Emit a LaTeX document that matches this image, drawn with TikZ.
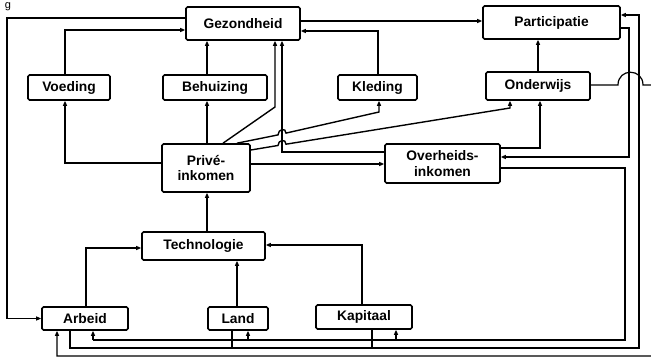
\documentclass[tikz,border=0pt]{standalone}
\usepackage{fontspec}
\setmainfont{Liberation Sans}
\usetikzlibrary{arrows.meta}
\begin{document}
\begin{tikzpicture}[x=1pt,y=-1pt,
  box/.style={draw,line width=1.6pt,rounded corners=1.5pt,inner sep=0pt,align=center,
    font=\bfseries\fontsize{13.8}{15.5}\selectfont},
  con/.style={line width=1.2pt},
  arr/.style={con,-{Triangle[length=5pt,width=4pt]}},
  slant/.style={line width=1.4pt}]
\useasboundingbox (0,0) rectangle (651,358);
\clip (0,0) rectangle (651,358);
\node[font=\fontsize{11}{12}\selectfont,anchor=base,inner sep=0pt] (frag) at (8,9) {g};
% boxes
\node[box,minimum width=114pt,minimum height=33pt] (gez) at (243,23.5) {Gezondheid};
\node[box,minimum width=137pt,minimum height=33pt] (part) at (551.5,22.5) {Participatie};
\node[box,minimum width=82pt,minimum height=25pt] (voed) at (69,87.5) {Voeding};
\node[box,minimum width=104pt,minimum height=25pt] (beh) at (215,87.5) {Behuizing};
\node[box,minimum width=79pt,minimum height=25pt] (kled) at (377.5,87.5) {Kleding};
\node[box,minimum width=104pt,minimum height=28pt] (ond) at (538,86) {Onderwijs};
\node[box,minimum width=88pt,minimum height=48pt] (prive) at (206,168) {Privé-\\inkomen};
\node[box,minimum width=115pt,minimum height=39pt] (over) at (442.5,163.5) {Overheids-\\inkomen};
\node[box,minimum width=123pt,minimum height=28pt] (tech) at (203.5,246) {Technologie};
\node[box,minimum width=86pt,minimum height=23pt] (arb) at (85,318.5) {Arbeid};
\node[box,minimum width=60pt,minimum height=23pt] (land) at (238,318.5) {Land};
\node[box,minimum width=96pt,minimum height=24pt] (kap) at (364,317) {Kapitaal};
% upper part
\draw[arr] (gez.west|-0,18) -- (7,18) |- (arb.west);
\draw[arr] (65,0|-voed.north) |- (gez.west|-0,30);
\draw[arr] (207,0|-beh.north) -- (207,0|-gez.south);
\draw[arr] (207,0|-prive.north) -- (207,0|-beh.south);
\draw[arr] (prive.west|-0,163) -| (65,0|-voed.south);
\draw[arr,slant] (223,0|-prive.north) -- (275,107) -- (275,0|-gez.south);
\draw[arr] (over.west|-0,152) -- (282,152) -- (282,0|-gez.south);
\draw[arr] (prive.east|-0,164) -- (over.west|-0,164);
\draw[arr,slant] (237,0|-prive.north) -- (278,134.9) .. controls (278,129) and (286,127.2) .. (286,133.1) -- (379,112) -- (379,0|-kled.south);
\draw[arr,slant] (prive.east|-0,150) -- (278,145.5) .. controls (278,139.7) and (286,138.4) .. (286,144.2) -- (510,108) -- (510,0|-ond.south);
\draw[arr] (538,0|-ond.north) -- (538,0|-part.south);
\draw[arr] (over.east|-0,148) -- (540,148) -- (540,0|-ond.south);
\draw[arr] (gez.east|-0,21) -- (part.west|-0,21);
\draw[arr] (378,0|-kled.north) |- (gez.east|-0,31);
% right side
\draw[arr] (ond.east|-0,85) -- (618,85) .. controls (618,68) and (643,68) .. (643,85) -- (660,85) -- (660,356) -- (57,356) -- (57,0|-arb.south);
\draw[arr] (part.east|-0,28) -- (629,28) -- (629,157) -- (over.east|-0,157);
\draw[arr] (70,0|-arb.south) -- (70,348) -- (639,348) -- (639,15) -- (part.east|-0,15);
\draw[con] (232,0|-land.south) -- (232,348);
\draw[con] (372,0|-kap.south) -- (372,348);
\draw[con] (over.east|-0,168) -- (625,168) -- (625,340) -- (93,340);
\draw[arr] (93,340) -- (93,0|-arb.south);
\draw[arr] (248,340) -- (248,0|-land.south);
\draw[arr] (396,340) -- (396,0|-kap.south);
% lower part
\draw[arr] (207,0|-tech.north) -- (207,0|-prive.south);
\draw[arr] (86,0|-arb.north) |- (tech.west|-0,248);
\draw[arr] (237,0|-land.north) -- (237,0|-tech.south);
\draw[arr] (362,0|-kap.north) |- (tech.east|-0,245);
\end{tikzpicture}
\end{document}
